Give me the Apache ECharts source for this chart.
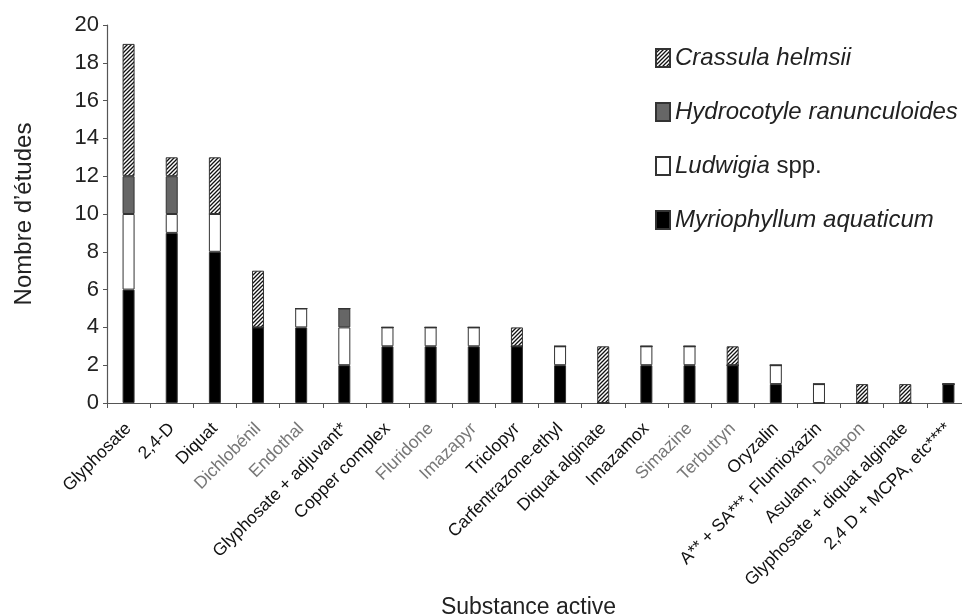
<!DOCTYPE html>
<html><head><meta charset="utf-8">
<script src="https://cdn.jsdelivr.net/npm/echarts@6/dist/echarts.min.js"></script>
<style>html,body{margin:0;padding:0;background:#fff}#c{width:962px;height:616px}</style>
</head><body><div id="c"></div>
<script>
const categories = ['Glyphosate','2,4-D','Diquat','Dichlobénil','Endothal','Glyphosate + adjuvant*','Copper complex','Fluridone','Imazapyr','Triclopyr','Carfentrazone-ethyl','Diquat alginate','Imazamox','Simazine','Terbutryn','Oryzalin','A** + SA***, Flumioxazin','Asulam, Dalapon','Glyphosate + diquat alginate','2,4 D + MCPA, etc****'];
const greyLabels = ['Dichlobénil','Endothal','Fluridone','Imazapyr','Simazine','Terbutryn'];
const myriophyllum = [6,9,8,4,4,2,3,3,3,3,2,0,2,2,2,1,0,0,0,1];
const ludwigia     = [4,1,2,0,1,2,1,1,1,0,1,0,1,1,0,1,1,0,0,0];
const hydrocotyle  = [2,2,0,0,0,1,0,0,0,0,0,0,0,0,0,0,0,0,0,0];
const crassula     = [7,1,3,3,0,0,0,0,0,1,0,3,0,0,1,0,0,1,1,0];
const yTicks = [0,2,4,6,8,10,12,14,16,18,20];

const FONT = '"Liberation Sans", Arial, sans-serif';
// hatch pattern
const pc = document.createElement('canvas');
pc.width = 4; pc.height = 4;
const g = pc.getContext('2d');
g.fillStyle = '#fff'; g.fillRect(0,0,4,4);
g.strokeStyle = '#111'; g.lineWidth = 1.3;
g.beginPath();
g.moveTo(-1,5); g.lineTo(5,-1);
g.moveTo(-1,1); g.lineTo(1,-1);
g.moveTo(3,5); g.lineTo(5,3);
g.stroke();
const hatch = {image: pc, repeat: 'repeat'};

const chart = echarts.init(document.getElementById('c'), null, {renderer:'canvas'});
const border = {borderColor:'#333', borderWidth:1};
function ser(name, data, color){
  return {name, type:'bar', stack:'s', data, barWidth:12,
    itemStyle:Object.assign({color}, border)};
}
chart.setOption({
  animation:false,
  textStyle:{fontFamily:FONT},
  grid:{left:107, top:25, bottom:213, right:-8, containLabel:false, outerBoundsMode:'none'},
  legend:{
    orient:'vertical', left:650, top:41, itemWidth:14, itemHeight:18, itemGap:30,
    icon:'rect',
    data:['Crassula helmsii','Hydrocotyle ranunculoides','Ludwigia spp.','Myriophyllum aquaticum'],
    formatter: n => n==='Ludwigia spp.' ? '{i|Ludwigia} spp.' : '{i|'+n+'}',
    textStyle:{fontFamily:FONT, fontSize:24, color:'#222',
      rich:{i:{fontStyle:'italic', fontSize:24, color:'#222', fontFamily:FONT}}}
  },
  xAxis:{
    type:'category', data:categories,
    axisLine:{lineStyle:{color:'#555', width:1.2}},
    axisTick:{show:true, length:5, lineStyle:{color:'#555'}},
    axisLabel:{rotate:45, interval:0, fontSize:17.5, color:'#111', margin:23,
      formatter: v => {
        if (v==='Asulam, Dalapon') return 'Asulam, {g|Dalapon}';
        if (greyLabels.includes(v)) return '{g|'+v+'}';
        return v;
      },
      rich:{g:{color:'#777', fontSize:17.5, fontFamily:FONT}}
    },
    name:'Substance active', nameLocation:'middle', nameGap:191,
    nameTextStyle:{fontSize:23, color:'#222', padding:[0,20,0,0]}
  },
  yAxis:{
    type:'value', min:0, max:20, interval:2,
    axisLine:{show:true, lineStyle:{color:'#555', width:1.2}},
    axisTick:{show:true, inside:false, length:4, lineStyle:{color:'#555'}},
    splitLine:{show:false},
    axisLabel:{fontSize:22, color:'#222', margin:8,
      formatter: v => yTicks.includes(v) ? String(v) : ''},
    name:'Nombre d’études', nameLocation:'middle', nameGap:71,
    nameTextStyle:{fontSize:24, color:'#222'}
  },
  series:[
    ser('Myriophyllum aquaticum', myriophyllum, '#000'),
    ser('Ludwigia spp.', ludwigia, '#fff'),
    ser('Hydrocotyle ranunculoides', hydrocotyle, '#666'),
    ser('Crassula helmsii', crassula, hatch)
  ]
});
</script></body></html>
